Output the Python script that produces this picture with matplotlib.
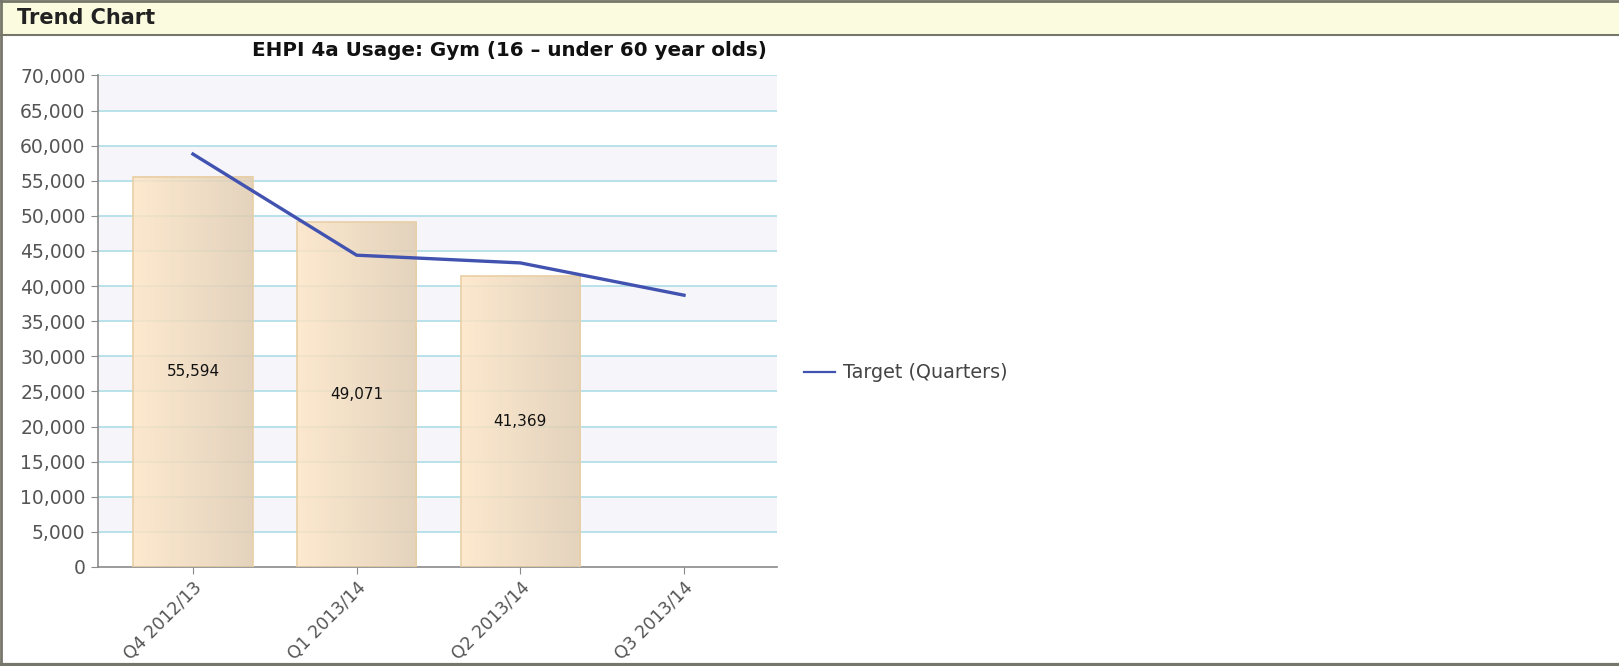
import numpy as np
import matplotlib
matplotlib.use("Agg")
import matplotlib.pyplot as plt
from matplotlib.patches import Rectangle
from matplotlib.lines import Line2D
from matplotlib.colors import LinearSegmentedColormap
from matplotlib.ticker import FuncFormatter

quarters = ["Q4 2012/13", "Q1 2013/14", "Q2 2013/14", "Q3 2013/14"]
actual = [55594, 49071, 41369]
target = [58800, 44400, 43300, 38700]

plt.rcParams["font.family"] = ["DejaVu Sans"]

fig = plt.figure(figsize=(16.19, 6.66), dpi=100)

# ---- panel header ----
fig.patches.append(Rectangle((0, 1 - 35 / 666), 1, 35 / 666, transform=fig.transFigure,
                             facecolor="#fbfbe0", edgecolor="none", zorder=0))
border = "#76766a"
fig.add_artist(plt.Line2D([0, 1], [1 - 1 / 666, 1 - 1 / 666], transform=fig.transFigure, color=border, lw=2))
fig.add_artist(plt.Line2D([0, 1], [1 - 34.5 / 666, 1 - 34.5 / 666], transform=fig.transFigure, color=border, lw=1.5))
fig.add_artist(plt.Line2D([0.0006, 0.0006], [0, 1], transform=fig.transFigure, color=border, lw=2))
fig.add_artist(plt.Line2D([0, 1], [1.5 / 666, 1.5 / 666], transform=fig.transFigure, color=border, lw=3))
fig.text(17 / 1619, 1 - 18 / 666, "Trend Chart", fontsize=15, fontweight="bold",
         color="#222222", va="center", ha="left")

# ---- chart ----
ax = fig.add_axes([98 / 1619, (666 - 567) / 666, (776.5 - 98) / 1619, (567 - 75.4) / 666])
x = np.arange(len(quarters))

# alternating bands
for i, lo in enumerate(range(0, 70000, 5000)):
    if i % 2 == 1:
        ax.axhspan(lo, lo + 5000, color="#f6f6fa", zorder=0, lw=0)
for v in range(5000, 70001, 5000):
    ax.axhline(v, color="#acdde6", lw=1.2, zorder=1)

cmap = LinearSegmentedColormap.from_list("bar", ["#fde6c6", "#e0ccb2"])
grad = np.linspace(0, 1, 256).reshape(1, -1)
w = 0.73
for xi, v in zip(x, actual):
    ax.imshow(grad, cmap=cmap, extent=[xi - w / 2, xi + w / 2, 0, v], aspect="auto",
              alpha=0.85, zorder=2, interpolation="bilinear")
    ax.add_patch(Rectangle((xi - w / 2, 0), w, v, facecolor="none", edgecolor="#e8cfa6", lw=1.2, zorder=3))
    ax.text(xi, v / 2, f"{v:,}", ha="center", va="center", fontsize=11, color="#111111", zorder=4)

ax.set_xlim(-0.58, 3.565)
ax.set_ylim(0, 70000)

ax.plot(x, target, color="#4152b0", lw=2.4, zorder=5)

ax.set_yticks(range(0, 70001, 5000))
ax.yaxis.set_major_formatter(FuncFormatter(lambda v, p: f"{int(v):,}"))
ax.set_xticks(x)
ax.set_xticklabels(quarters, rotation=45, ha="right", rotation_mode="anchor")
for s in ["top", "right"]:
    ax.spines[s].set_visible(False)
for s in ["left", "bottom"]:
    ax.spines[s].set_color("#8a8a8a")
    ax.spines[s].set_linewidth(1.2)
ax.tick_params(axis="y", colors="#8a8a8a", labelcolor="#555555", labelsize=13.5, length=5, pad=4)
ax.tick_params(axis="x", colors="#8a8a8a", labelcolor="#555555", labelsize=12.5, length=5, pad=3)

fig.text(767 / 1619, 1 - 51 / 666, "EHPI 4a Usage: Gym (16 \u2013 under 60 year olds)",
         fontsize=14.3, fontweight="bold", color="#111111", ha="right", va="center")

handle = Line2D([], [], color="#4152b0", lw=1.6)
fig.legend(handles=[handle], labels=["Target (Quarters)"], loc="center left",
           bbox_to_anchor=(804 / 1619, 1 - 373 / 666),
           frameon=False, fontsize=13.8, handlelength=1.6, handletextpad=0.45, labelcolor="#444444",
           borderpad=0, borderaxespad=0)

fig.savefig("out.png", dpi=100, facecolor="white")
